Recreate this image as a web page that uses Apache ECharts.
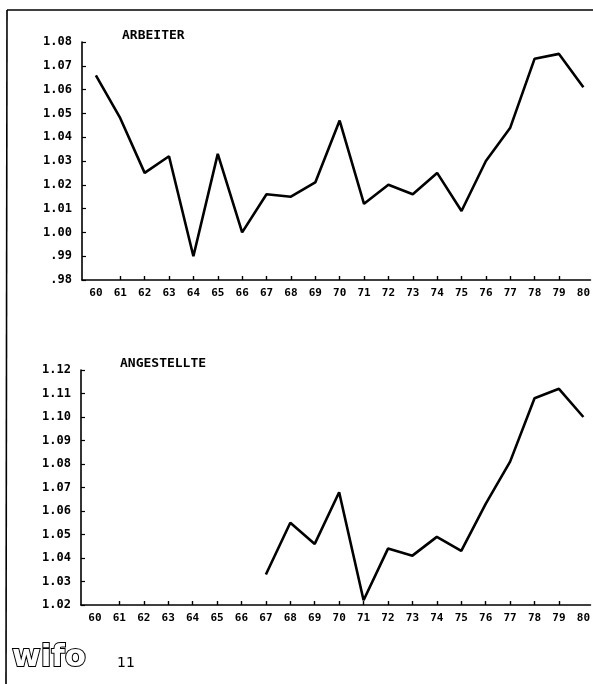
<!DOCTYPE html>
<html>
<head>
<meta charset="utf-8">
<script src="https://cdn.jsdelivr.net/npm/echarts@6/dist/echarts.min.js"></script>
<style>
html, body { margin: 0; padding: 0; background: #fff; }
#chart { width: 593px; height: 684px; }
</style>
</head>
<body>
<div id="chart"></div>
<script>
var years = [60, 61, 62, 63, 64, 65, 66, 67, 68, 69, 70, 71, 72, 73, 74, 75, 76, 77, 78, 79, 80];
var arbeiter = [1.066, 1.048, 1.025, 1.032, 0.990, 1.033, 1.000, 1.016, 1.015, 1.021, 1.047,
                1.012, 1.020, 1.016, 1.025, 1.009, 1.030, 1.044, 1.073, 1.075, 1.061];
var angestellte = [null, null, null, null, null, null, null, 1.033, 1.055, 1.046, 1.068,
                   1.022, 1.044, 1.041, 1.049, 1.043, 1.063, 1.081, 1.108, 1.112, 1.100];
var arbeiterTicks = [0.98, 0.99, 1.00, 1.01, 1.02, 1.03, 1.04, 1.05, 1.06, 1.07, 1.08];
var angestellteTicks = [1.02, 1.03, 1.04, 1.05, 1.06, 1.07, 1.08, 1.09, 1.10, 1.11, 1.12];

var myChart = echarts.init(document.getElementById('chart'));

var mono = 'DejaVu Sans Mono';

function pairs(vals) {
	var out = [];
	for (var i = 0; i < years.length; i++) {
		if (vals[i] != null) out.push([years[i], vals[i]]);
	}
	return out;
}

function yLabel(v) {
	var s = v.toFixed(2);
	return v < 1 ? s.slice(1) : s;
}

function xAxisFor(idx) {
	return {
		gridIndex: idx,
		type: 'value',
		min: 59.43,
		max: 80.29,
		axisLine: { show: true, onZero: false, lineStyle: { color: '#000', width: 1.6 } },
		axisTick: { show: true, inside: true, length: 4, customValues: years.slice(1, -1),
			lineStyle: { color: '#000', width: 1.4 } },
		axisLabel: { customValues: years, margin: 8, color: '#000', fontFamily: mono, fontSize: 11,
			fontWeight: 'bold' },
		splitLine: { show: false }
	};
}

function yAxisFor(idx, ticks) {
	return {
		gridIndex: idx,
		type: 'value',
		min: ticks[0],
		max: ticks[ticks.length - 1],
		axisLine: { show: true, lineStyle: { color: '#000', width: 1.6 } },
		axisTick: { show: true, inside: true, length: 4, customValues: ticks,
			lineStyle: { color: '#000', width: 1.2 } },
		axisLabel: { customValues: ticks, margin: 10, color: '#000', fontFamily: mono, fontSize: 12,
			fontWeight: 'bold', formatter: yLabel },
		splitLine: { show: false }
	};
}

var option = {
	backgroundColor: '#fff',
	animation: false,
	title: [
		{ text: 'ARBEITER', left: 117, top: 24,
		  textStyle: { fontFamily: mono, fontSize: 13, fontWeight: 'bold', color: '#000' } },
		{ text: 'ANGESTELLTE', left: 115, top: 352,
		  textStyle: { fontFamily: mono, fontSize: 13, fontWeight: 'bold', color: '#000' } }
	],
	grid: [
		{ left: 82, top: 42, width: 511, height: 238 },
		{ left: 81, top: 370, width: 512, height: 235 }
	],
	xAxis: [xAxisFor(0), xAxisFor(1)],
	yAxis: [yAxisFor(0, arbeiterTicks), yAxisFor(1, angestellteTicks)],
	series: [
		{
			name: 'ARBEITER',
			type: 'line',
			xAxisIndex: 0,
			yAxisIndex: 0,
			symbol: 'none',
			lineStyle: { color: '#000', width: 2.6 },
			data: pairs(arbeiter)
		},
		{
			name: 'ANGESTELLTE',
			type: 'line',
			xAxisIndex: 1,
			yAxisIndex: 1,
			symbol: 'none',
			lineStyle: { color: '#000', width: 2.6 },
			data: pairs(angestellte)
		}
	],
	graphic: [
		// frame of the page
		{ type: 'line', shape: { x1: 7, y1: 10, x2: 593, y2: 10 }, style: { stroke: '#000', lineWidth: 1.6 } },
		{ type: 'line', shape: { x1: 7, y1: 10, x2: 6, y2: 684 }, style: { stroke: '#000', lineWidth: 1.6 } },
		// logo and page number
		{ type: 'text', left: 11, top: 641,
		  style: { text: 'wifo', font: 'bold 31px "DejaVu Sans"', fill: '#fff', stroke: '#000', lineWidth: 2 } },
		{ type: 'text', left: 117, top: 656,
		  style: { text: '11', font: '14px "DejaVu Sans"', fill: '#000' } }
	]
};

myChart.setOption(option);
</script>
</body>
</html>
